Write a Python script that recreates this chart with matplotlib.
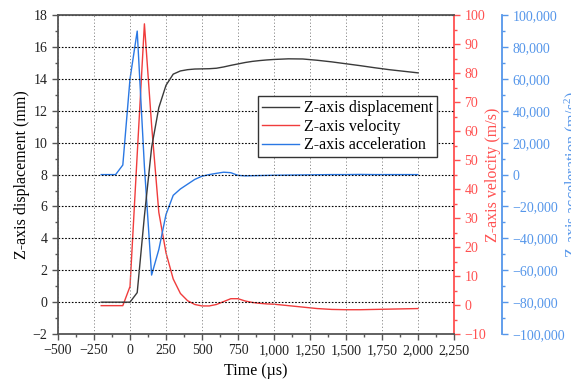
import matplotlib
matplotlib.use("Agg")
import matplotlib.pyplot as plt
from matplotlib.ticker import MultipleLocator, FuncFormatter

plt.rcParams['font.family'] = ['Liberation Serif', 'DejaVu Serif']
plt.rcParams['font.size'] = 10
plt.rcParams['mathtext.fontset'] = 'custom'
plt.rcParams['mathtext.rm'] = 'Liberation Serif'
plt.rcParams['mathtext.it'] = 'Liberation Serif:italic'

time_us = [-200, -150, -100, -50, 0, 50, 100, 150, 200, 250, 300, 350, 400, 450, 500,
           550, 600, 650, 700, 750, 800, 850, 900, 950, 1000, 1100, 1200, 1300, 1400,
           1500, 1600, 1700, 1800, 1900, 2000]

displacement = [0, 0, 0, 0, 0, 0.6, 5.4, 9.7, 12.2, 13.6, 14.3, 14.5, 14.58, 14.62, 14.63,
                14.64, 14.67, 14.75, 14.85, 14.94, 15.03, 15.1, 15.15, 15.19, 15.22, 15.26,
                15.25, 15.17, 15.07, 14.95, 14.83, 14.7, 14.58, 14.48, 14.38]

velocity = [-0.2, -0.2, -0.2, -0.2, 6.4, 52, 97, 62, 32, 18, 9, 4, 1.5, 0.2, -0.3,
            -0.3, 0.2, 1.2, 2.2, 2.2, 1.4, 0.9, 0.6, 0.4, 0.3, -0.2, -0.7, -1.2, -1.5,
            -1.6, -1.6, -1.5, -1.4, -1.3, -1.2]

acceleration = [0, 0, 0, 6000, 60000, 90000, 5000, -63000, -47000, -25000, -13000, -9000,
                -6000, -3000, -1000, 0, 800, 1500, 1200, -500, -800, -700, -600, -500,
                -400, -300, -200, -100, 0, 0, 100, 0, 0, 0, 0]

c_disp = '#3a3a3a'
c_vel = '#f03c3c'
c_acc = '#2a78e4'
c_vel_ax = '#ff5050'
c_acc_ax = '#5596ea'

fig = plt.figure(figsize=(5.71, 3.88), dpi=100)
ax = fig.add_axes([0.1016, 0.139, 0.6935, 0.822])
ax2 = ax.twinx()
ax3 = ax.twinx()
ax3.spines['right'].set_position(('axes', 1.121))

l1, = ax.plot(time_us, displacement, color=c_disp, lw=1.0)
l2, = ax2.plot(time_us, velocity, color=c_vel, lw=1.0)
l3, = ax3.plot(time_us, acceleration, color=c_acc, lw=1.0)

ax.set_xlim(-500, 2250)
ax.set_ylim(-2, 18)
ax2.set_ylim(-10, 100)
ax3.set_ylim(-100000, 100000)

ax.xaxis.set_major_locator(MultipleLocator(250))
ax.xaxis.set_minor_locator(MultipleLocator(125))
ax.yaxis.set_major_locator(MultipleLocator(2))
ax.yaxis.set_minor_locator(MultipleLocator(1))
ax2.yaxis.set_major_locator(MultipleLocator(10))
ax2.yaxis.set_minor_locator(MultipleLocator(5))
ax3.yaxis.set_major_locator(MultipleLocator(20000))
ax3.yaxis.set_minor_locator(MultipleLocator(10000))

thousands = FuncFormatter(lambda v, p: f"{v:,.0f}".replace('-', '\u2212'))
ax.xaxis.set_major_formatter(thousands)
ax.yaxis.set_major_formatter(thousands)
ax2.yaxis.set_major_formatter(thousands)
ax3.yaxis.set_major_formatter(thousands)

# grid: black dotted rows, grey dotted columns
ax.grid(axis='y', which='major', color='black', linestyle=(0, (1.5, 1.5)), lw=0.8)
ax.grid(axis='x', which='major', color='#8a8a8a', linestyle=(0, (1.2, 2.2)), lw=0.7)

frame = '#555555'
for s in ['left', 'bottom', 'top']:
    ax.spines[s].set_color(frame)
    ax.spines[s].set_linewidth(1.3)
ax.spines['right'].set_visible(False)
ax.tick_params(which='both', direction='out', colors=frame, labelcolor='#222222',
               labelsize=10, right=False, top=False)
ax.tick_params(which='major', length=4, width=1)
ax.tick_params(which='minor', length=2.5, width=1)

for a, col in [(ax2, c_vel_ax), (ax3, c_acc_ax)]:
    for s in ['left', 'bottom', 'top']:
        a.spines[s].set_visible(False)
    a.spines['right'].set_color(col)
    a.spines['right'].set_linewidth(1.3)
    a.tick_params(which='both', direction='out', colors=col, labelsize=10)
    a.tick_params(which='major', length=4, width=1)
    a.tick_params(which='minor', length=2.5, width=1)

ax.set_xlabel('Time (\u00b5s)', fontsize=11.5, labelpad=4)
ax.set_ylabel('Z-axis displacement (mm)', fontsize=11.5, labelpad=2)
ax2.set_ylabel('Z-axis velocity (m/s)', fontsize=11.5, color=c_vel_ax, labelpad=-1)
ax3.set_ylabel('Z-axis acceleration (m/s$^2$)', fontsize=11.5, color=c_acc_ax)
ax3.yaxis.set_label_coords(1.273, 0.5)

leg = ax.legend([l1, l2, l3], ['Z-axis displacement', 'Z-axis velocity', 'Z-axis acceleration'],
                loc='upper left', bbox_to_anchor=(0.505, 0.745), fontsize=11.5,
                frameon=True, fancybox=False, framealpha=1, edgecolor='#333333',
                handlelength=2.3, handletextpad=0.35, borderpad=0.25, labelspacing=0.15,
                borderaxespad=0)
leg.get_frame().set_linewidth(1.0)
leg.set_zorder(10)
ax.set_zorder(ax3.get_zorder() + 1)
ax.patch.set_visible(False)

fig.savefig('out.png', dpi=100)
